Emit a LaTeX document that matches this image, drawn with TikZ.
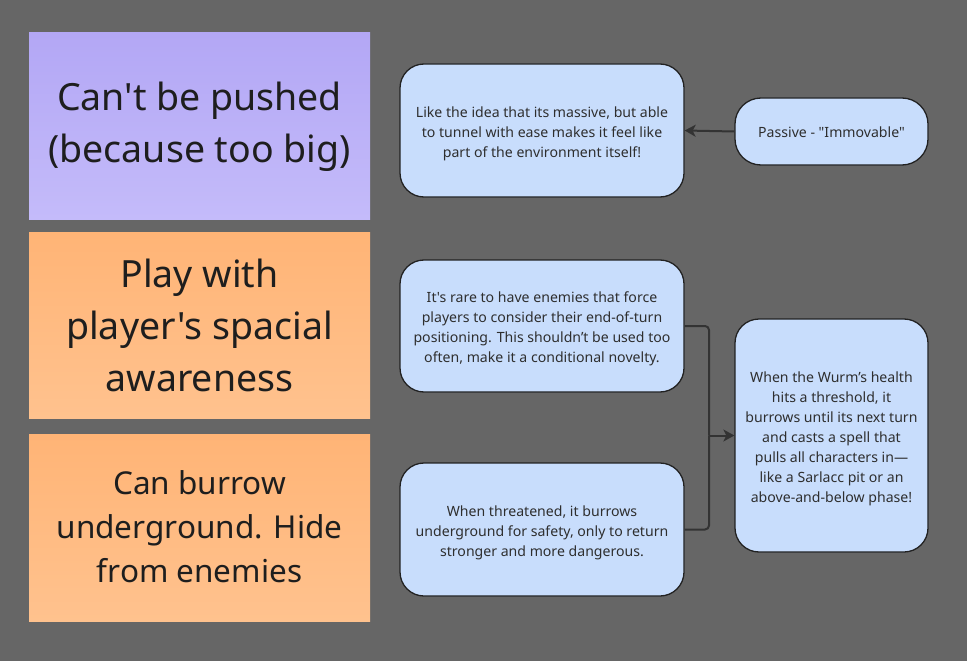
\documentclass[tikz,border=0pt]{standalone}
\usepackage{fontspec}
\setmainfont{Noto Sans}[Ligatures=TeXOff]
\usetikzlibrary{arrows.meta}
\definecolor{bg}{HTML}{666666}
\definecolor{purpleT}{HTML}{B3A7F5}
\definecolor{purpleB}{HTML}{C4BBFA}
\definecolor{orangeT}{HTML}{FFB476}
\definecolor{orangeB}{HTML}{FFC28E}
\definecolor{boxfill}{HTML}{C8DDFC}
\definecolor{boxline}{HTML}{222222}
\definecolor{txt}{HTML}{2E2E2E}
\definecolor{stickytxt}{HTML}{1E1E1E}
\definecolor{conn}{HTML}{333333}
\tikzset{
  sticky/.style={inner sep=0pt, text=stickytxt, align=center,
    font=\fontsize{37.5}{52}\selectfont},
  stickysmall/.style={sticky, font=\fontsize{31.5}{44}\selectfont},
  card/.style={draw=boxline, line width=1.3pt, fill=boxfill, rounded corners=24pt,
    inner sep=0pt},
  cardtext/.style={text=txt, align=center, inner sep=0pt,
    font=\fontsize{14.1}{20}\selectfont},
  link/.style={draw=conn, line width=2pt, rounded corners=4pt,
    -{Stealth[length=11pt,width=12pt,inset=3pt]}},
  plain/.style={draw=conn, line width=2pt, rounded corners=4pt}
}
\begin{document}
\begin{tikzpicture}[x=1pt,y=-1pt]
\fill[bg] (0,0) rectangle (967,661);
\useasboundingbox (0,0) rectangle (967,661);
% sticky notes
\shade[top color=purpleT, bottom color=purpleB] (29,33) rectangle (370,219);
\node[sticky] (s1) at (199.5,127) {Can't be pushed\\(because too big)};
\shade[top color=orangeT, bottom color=orangeB] (29,232) rectangle (370,418);
\node[sticky] (s2) at (199.5,325) {Play with\\player's spacial\\awareness};
\shade[top color=orangeT, bottom color=orangeB] (29,434) rectangle (370,621);
\node[stickysmall] (s3) at (199.5,527) {Can burrow\\underground. Hide\\from enemies};
% cards
\node[card, minimum width=284pt, minimum height=133pt] (a) at (542,130.5) {};
\node[cardtext] (at) at ([yshift=-3pt]a.center)
  {Like the idea that its massive, but able\\to tunnel with ease makes it feel like\\part of the environment itself!};
\node[card, minimum width=193pt, minimum height=67pt, rounded corners=26pt] (p) at (831.5,131.5) {};
\node[cardtext] (pt) at ([yshift=-1pt]p.center) {Passive - "Immovable"};
\node[card, minimum width=284pt, minimum height=132pt] (b) at (542,326) {};
\node[cardtext] (bt) at ([yshift=-3pt]b.center)
  {It's rare to have enemies that force\\players to consider their end-of-turn\\positioning. This shouldn’t be used too\\often, make it a conditional novelty.};
\node[card, minimum width=284pt, minimum height=133pt] (c) at (542,529.5) {};
\node[cardtext] (ct) at ([yshift=-3pt]c.center)
  {When threatened, it burrows\\underground for safety, only to return\\stronger and more dangerous.};
\node[card, minimum width=193pt, minimum height=233pt] (d) at (831.5,435.5) {};
\node[cardtext] (dt) at ([yshift=-3pt]d.center)
  {When the Wurm’s health\\hits a threshold, it\\burrows until its next turn\\and casts a spell that\\pulls all characters in—\\like a Sarlacc pit or an\\above-and-below phase!};
% connectors
\draw[link] (p.west) -- (a.east);
\coordinate (j) at (709,435.5);
\draw[plain] (b.east) -| (j);
\draw[plain] (c.east) -| (j);
\draw[link] (j) -- (d.west);
\end{tikzpicture}
\end{document}
